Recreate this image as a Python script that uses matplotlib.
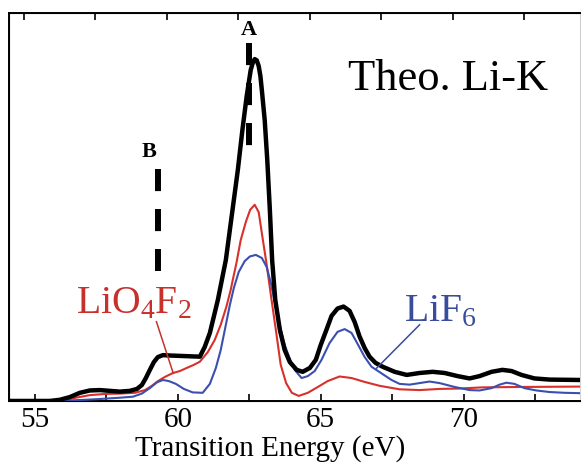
import matplotlib
matplotlib.use("Agg")
import matplotlib.pyplot as plt
import numpy as np

plt.rcParams["font.family"] = ["Liberation Serif", "DejaVu Serif"]
plt.rcParams["mathtext.fontset"] = "custom"
plt.rcParams["mathtext.rm"] = "Liberation Serif"
plt.rcParams["mathtext.it"] = "Liberation Serif"

# total Li-K spectrum (black)
total_e = [54.09, 55.52, 55.87, 56.22, 56.57, 56.92, 57.27, 57.62, 57.97, 58.32,
           58.57, 58.74, 58.88, 59.02, 59.16, 59.30, 59.48, 59.72, 60.07, 60.42,
           60.77, 60.94, 61.12, 61.40, 61.68, 61.89, 62.10, 62.26, 62.41, 62.55,
           62.62, 62.69, 62.76, 62.83, 62.89, 62.94, 63.04, 63.13, 63.22, 63.30,
           63.41, 63.57, 63.74, 63.92, 64.16, 64.37, 64.62, 64.83, 65.00, 65.20,
           65.38, 65.59, 65.80, 66.01, 66.19, 66.36, 66.54, 66.71, 66.92, 67.17,
           67.59, 68.01, 68.46, 68.92, 69.34, 69.79, 70.21, 70.56, 70.98, 71.36,
           71.68, 72.03, 72.48, 73.01, 74.09]
total_i = [0.000, 0.000, 0.003, 0.010, 0.021, 0.027, 0.028, 0.026, 0.024, 0.026,
           0.031, 0.041, 0.059, 0.080, 0.100, 0.113, 0.118, 0.117, 0.116, 0.115,
           0.114, 0.139, 0.175, 0.260, 0.363, 0.479, 0.595, 0.698, 0.785, 0.852,
           0.870, 0.880, 0.877, 0.862, 0.836, 0.800, 0.723, 0.620, 0.492, 0.363,
           0.260, 0.183, 0.131, 0.100, 0.080, 0.075, 0.085, 0.106, 0.144, 0.183,
           0.219, 0.238, 0.243, 0.232, 0.203, 0.166, 0.136, 0.114, 0.098, 0.088,
           0.075, 0.067, 0.072, 0.075, 0.072, 0.064, 0.058, 0.064, 0.075, 0.080,
           0.077, 0.067, 0.058, 0.055, 0.054]

# LiO4F2 site (red)
lio_e = [54.09, 55.70, 56.05, 56.40, 56.92, 57.45, 57.97, 58.50, 58.85, 59.09,
         59.30, 59.55, 59.83, 60.07, 60.31, 60.56, 60.77, 61.05, 61.29, 61.50,
         61.70, 61.85, 61.92, 62.05, 62.20, 62.38, 62.53, 62.69, 62.83, 62.95,
         63.10, 63.27, 63.43, 63.60, 63.79, 63.99, 64.23, 64.55, 64.90, 65.24,
         65.66, 66.08, 66.54, 67.06, 67.76, 68.46, 69.16, 69.86, 70.66, 71.96,
         74.09]
lio_i = [0.000, 0.000, 0.003, 0.008, 0.015, 0.018, 0.019, 0.021, 0.028, 0.039,
         0.051, 0.062, 0.072, 0.077, 0.085, 0.093, 0.101, 0.126, 0.157, 0.196,
         0.243, 0.286, 0.311, 0.355, 0.414, 0.461, 0.492, 0.505, 0.486, 0.427,
         0.355, 0.265, 0.183, 0.093, 0.046, 0.021, 0.013, 0.021, 0.036, 0.051,
         0.063, 0.059, 0.049, 0.039, 0.030, 0.028, 0.031, 0.032, 0.035, 0.036,
         0.037]

# LiF6 site (blue)
lif_e = [54.09, 56.12, 56.75, 57.27, 57.90, 58.43, 58.74, 59.02, 59.27, 59.48,
         59.69, 59.93, 60.21, 60.52, 60.87, 61.12, 61.33, 61.50, 61.68, 61.82,
         61.96, 62.13, 62.34, 62.52, 62.73, 62.94, 63.11, 63.27, 63.41, 63.57,
         63.74, 63.92, 64.09, 64.33, 64.55, 64.79, 65.03, 65.31, 65.59, 65.84,
         66.08, 66.29, 66.54, 66.78, 67.17, 67.48, 67.76, 68.11, 68.46, 68.81,
         69.16, 69.69, 70.21, 70.56, 70.98, 71.26, 71.50, 71.78, 72.13, 72.55,
         73.01, 73.53, 74.09]
lif_i = [0.000, 0.001, 0.003, 0.005, 0.008, 0.011, 0.019, 0.033, 0.048, 0.054,
         0.051, 0.044, 0.031, 0.022, 0.021, 0.044, 0.085, 0.131, 0.196, 0.247,
         0.291, 0.332, 0.360, 0.372, 0.376, 0.368, 0.345, 0.299, 0.247, 0.193,
         0.144, 0.108, 0.080, 0.059, 0.064, 0.077, 0.106, 0.149, 0.178, 0.185,
         0.175, 0.147, 0.113, 0.088, 0.069, 0.054, 0.044, 0.042, 0.046, 0.050,
         0.046, 0.036, 0.028, 0.027, 0.033, 0.042, 0.047, 0.044, 0.033, 0.027,
         0.023, 0.021, 0.020]

# marked features: energy, dash span (low, high), label
feat_names = ["A", "B"]
feat_e = [62.49, 59.29]
feat_lo = [0.656, 0.335]
feat_hi = [0.921, 0.597]

xticks_major = [55, 60, 65, 70]

fig = plt.figure(figsize=(5.81, 4.63), dpi=100)
ax = fig.add_axes([0.0155, 0.134, 0.982, 0.839])

ax.plot(lio_e, lio_i, color="#d8302b", lw=1.5, solid_joinstyle="round", zorder=3)
ax.plot(lif_e, lif_i, color="#3b4fae", lw=1.5, solid_joinstyle="round", zorder=3)
ax.plot(total_e, total_i, color="black", lw=3.2, solid_joinstyle="round",
        solid_capstyle="round", zorder=4)

for name, e, lo, hi in zip(feat_names, feat_e, feat_lo, feat_hi):
    ax.plot([e, e], [hi, lo], color="black", lw=4.3, dashes=(3.7, 3.0),
            dash_capstyle="butt", zorder=5)

ax.text(62.48, 0.942, "A", fontsize=16, fontweight="bold", ha="center", va="baseline")
ax.text(59.00, 0.629, "B", fontsize=16, fontweight="bold", ha="center", va="baseline")

ax.text(65.94, 0.80, "Theo. Li-K", fontsize=32, ha="left", va="baseline")

ax.text(56.43, 0.226, "LiO$_4$F$_2$", fontsize=28.5, color="#c8302c",
        ha="left", va="baseline")
ax.plot([59.25, 59.84], [0.204, 0.071], color="#c8302c", lw=1.1, zorder=6)
ax.text(67.90, 0.204, "LiF$_6$", fontsize=28.5, color="#3a4c9c",
        ha="left", va="baseline")
ax.plot([68.46, 66.95], [0.196, 0.084], color="#3a4c9c", lw=1.1, zorder=6)

ax.set_xlim(54.09, 74.06)
ax.set_ylim(0, 1)
ax.set_yticks([])
ax.set_xticks(xticks_major)
ax.set_xticks(np.arange(57.5, 74, 5), minor=True)
ax.tick_params(axis="x", which="both", direction="in", length=5, width=1.2,
               labelsize=21, pad=4)
ax.set_xlabel("Transition Energy (eV)", fontsize=21)
ax.xaxis.set_label_coords(0.458, -0.088)
for sp in ax.spines.values():
    sp.set_linewidth(1.4)
ax.spines["right"].set_color("#d0d0d0")
ax.spines["right"].set_linewidth(0.8)

# top ticks sit slightly offset from the bottom ones in the original
top = ax.twiny()
top.set_xlim(ax.get_xlim())
top.set_xticks(np.arange(54.615, 74, 2.5))
top.tick_params(axis="x", direction="in", length=5, width=1.2, labeltop=False)
top.spines["right"].set_visible(False)
ax.spines["right"].set_zorder(0)

fig.savefig("out.png", dpi=100)
